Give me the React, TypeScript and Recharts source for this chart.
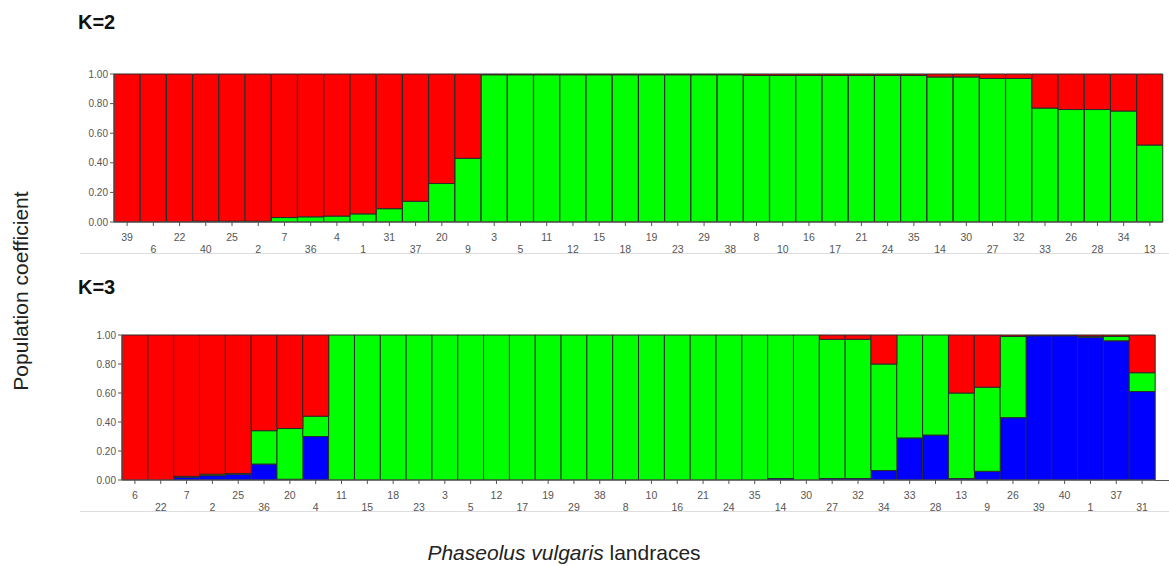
import React from "react";
import { BarChart, Bar, XAxis, YAxis } from "recharts";

const k2Labels = ["39", "6", "22", "40", "25", "2", "7", "36", "4", "1", "31", "37", "20", "9", "3", "5", "11", "12", "15", "18", "19", "23", "29", "38", "8", "10", "16", "17", "21", "24", "35", "14", "30", "27", "32", "33", "26", "28", "34", "13"];
const k2Green = [0, 0, 0, 0.005, 0.005, 0.005, 0.03, 0.035, 0.04, 0.055, 0.09, 0.14, 0.26, 0.43, 0.995, 0.995, 0.995, 0.995, 0.995, 0.995, 0.995, 0.995, 0.995, 0.995, 0.99, 0.99, 0.99, 0.99, 0.99, 0.99, 0.99, 0.98, 0.98, 0.97, 0.97, 0.77, 0.76, 0.76, 0.75, 0.52];
const k2Red = [1, 1, 1, 0.995, 0.995, 0.995, 0.97, 0.965, 0.96, 0.945, 0.91, 0.86, 0.74, 0.57, 0.005, 0.005, 0.005, 0.005, 0.005, 0.005, 0.005, 0.005, 0.005, 0.005, 0.01, 0.01, 0.01, 0.01, 0.01, 0.01, 0.01, 0.02, 0.02, 0.03, 0.03, 0.23, 0.24, 0.24, 0.25, 0.48];

const k3Labels = ["6", "22", "7", "2", "25", "36", "20", "4", "11", "15", "18", "23", "3", "5", "12", "17", "19", "29", "38", "8", "10", "16", "21", "24", "35", "14", "30", "27", "32", "34", "33", "28", "13", "9", "26", "39", "40", "1", "37", "31"];
const k3Blue = [0, 0, 0.02, 0.03, 0.04, 0.11, 0.005, 0.3, 0, 0, 0, 0, 0, 0, 0, 0, 0, 0, 0, 0, 0, 0, 0, 0, 0, 0.01, 0, 0.01, 0.01, 0.065, 0.29, 0.31, 0.01, 0.06, 0.43, 0.995, 0.995, 0.985, 0.96, 0.61];
const k3Green = [0, 0, 0.005, 0.01, 0.005, 0.23, 0.35, 0.14, 1, 1, 1, 1, 1, 1, 1, 1, 1, 1, 1, 1, 1, 1, 1, 1, 1, 0.99, 1, 0.96, 0.96, 0.735, 0.71, 0.69, 0.59, 0.58, 0.56, 0, 0, 0.005, 0.03, 0.13];
const k3Red = [1, 1, 0.975, 0.96, 0.955, 0.66, 0.645, 0.56, 0, 0, 0, 0, 0, 0, 0, 0, 0, 0, 0, 0, 0, 0, 0, 0, 0, 0, 0, 0.03, 0.03, 0.2, 0, 0, 0.4, 0.36, 0.01, 0.005, 0.005, 0.01, 0.01, 0.26];

const yTicks = [0, 0.2, 0.4, 0.6, 0.8, 1];

const k2Data = k2Labels.map((name, i) => ({ name, green: k2Green[i], red: k2Red[i] }));
const k3Data = k3Labels.map((name, i) => ({ name, blue: k3Blue[i], green: k3Green[i], red: k3Red[i] }));

const FONT = "'Liberation Sans', Arial, sans-serif";

// labels alternate between two rows
const StaggerTick = (props: any) => {
  const { x, y, payload, index } = props;
  const dy = index % 2 === 0 ? 13 : 25;
  return (
    <text x={x} y={y + dy} textAnchor="middle" fontSize={10.5} fill="#555" fontFamily={FONT}>
      {payload.value}
    </text>
  );
};

const yFmt = (v: number) => v.toFixed(2);

export default function App() {
  const stroke = "#2a2a2a";
  return (
    <div style={{ position: "absolute", left: 0, top: 0, width: 1169, height: 566, background: "#fff", fontFamily: FONT }}>
      <div style={{ position: "absolute", left: 78, top: 11, fontSize: 20, fontWeight: "bold", color: "#111" }}>K=2</div>
      <div style={{ position: "absolute", left: 78, top: 276, fontSize: 20, fontWeight: "bold", color: "#111" }}>K=3</div>

      <div style={{ position: "absolute", left: 0, top: 0 }}>
        <BarChart width={1169} height={262} data={k2Data} barCategoryGap={0} margin={{ top: 74, right: 6, bottom: 0, left: 0 }}>
          <XAxis dataKey="name" interval={0} height={40} tick={<StaggerTick />} tickSize={4} stroke="#555" />
          <YAxis width={114} domain={[0, 1]} ticks={yTicks} tickFormatter={yFmt} tickSize={4} stroke="#555"
            tick={{ fontSize: 10, fill: "#555", fontFamily: FONT }} />
          <Bar dataKey="green" stackId="a" fill="#00ff00" stroke={stroke} strokeWidth={1} isAnimationActive={false} />
          <Bar dataKey="red" stackId="a" fill="#ff0000" stroke={stroke} strokeWidth={1} isAnimationActive={false} />
        </BarChart>
      </div>
      <div style={{ position: "absolute", left: 80, top: 253, width: 1089, height: 1, background: "#ddd" }} />

      <div style={{ position: "absolute", left: 0, top: 300 }}>
        <BarChart width={1169} height={220} data={k3Data} barCategoryGap={0} margin={{ top: 35, right: 14, bottom: 0, left: 0 }}>
          <XAxis dataKey="name" interval={0} height={40} tick={<StaggerTick />} tickSize={4} stroke="#555" />
          <YAxis width={122} domain={[0, 1]} ticks={yTicks} tickFormatter={yFmt} tickSize={4} stroke="#555"
            tick={{ fontSize: 10, fill: "#555", fontFamily: FONT }} />
          <Bar dataKey="blue" stackId="a" fill="#0000ff" stroke={stroke} strokeWidth={1} isAnimationActive={false} />
          <Bar dataKey="green" stackId="a" fill="#00ff00" stroke={stroke} strokeWidth={1} isAnimationActive={false} />
          <Bar dataKey="red" stackId="a" fill="#ff0000" stroke={stroke} strokeWidth={1} isAnimationActive={false} />
        </BarChart>
      </div>
      <div style={{ position: "absolute", left: 1155, top: 480, width: 14, height: 1, background: "#555" }} />
      <div style={{ position: "absolute", left: 80, top: 511, width: 1089, height: 1, background: "#ddd" }} />

      <div style={{ position: "absolute", left: 21, top: 291, transform: "translate(-50%, -50%) rotate(-90deg)", whiteSpace: "nowrap", fontSize: 21, color: "#222" }}>
        Population coefficient
      </div>
      <div style={{ position: "absolute", left: 564, top: 553, transform: "translate(-50%, -50%)", whiteSpace: "nowrap", fontSize: 21, color: "#222" }}>
        <i>Phaseolus vulgaris</i> landraces
      </div>
    </div>
  );
}
